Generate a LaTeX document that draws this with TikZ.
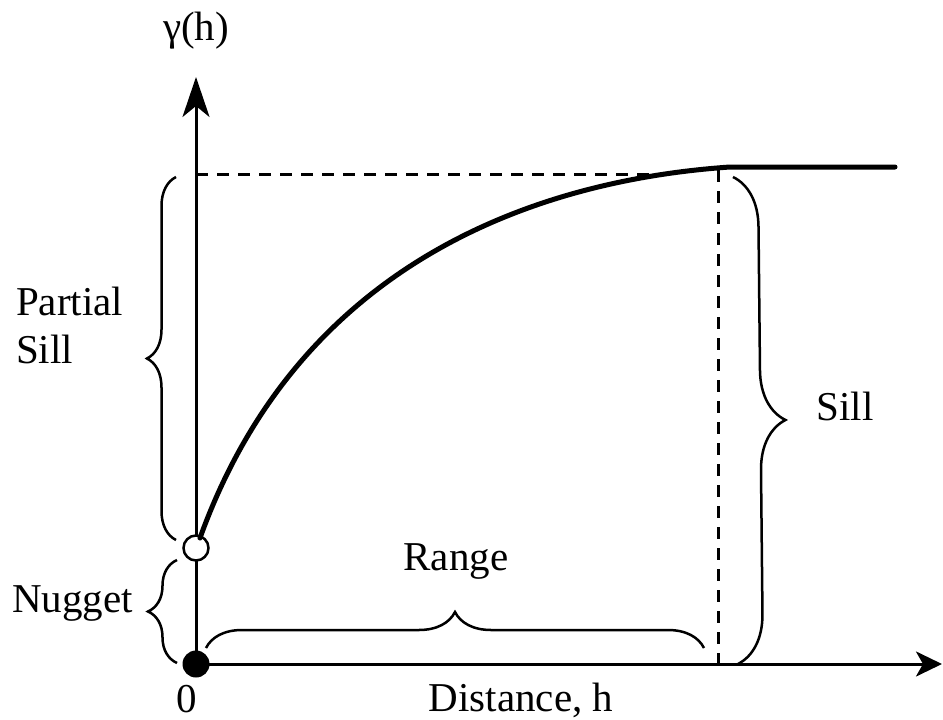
\documentclass[tikz,border=0pt]{standalone}
\usepackage{fontspec}
\setmainfont{Liberation Serif}
\usetikzlibrary{arrows.meta,decorations.pathreplacing}
\tikzset{
  lbl/.style={font=\fontsize{41}{50}\selectfont, inner sep=0pt},
  axisline/.style={line width=3pt},
  curveline/.style={line width=5pt, line cap=round},
  guide/.style={line width=3pt, dash pattern=on 12pt off 9pt},
  bracepath/.style={line width=2.5pt, decorate, decoration={brace, amplitude=#1}},
}
\begin{document}
\begin{tikzpicture}[x=1pt,y=-1pt]
\useasboundingbox (0,0) rectangle (943,720);
% key points
\coordinate (O) at (196,664);
\coordinate (ytip) at (196,77);
\coordinate (xtip) at (942,664);
\coordinate (sillL) at (196,174);
\coordinate (sillM) at (662,174);
\coordinate (rangeTop) at (718,170);
\coordinate (rangeBot) at (718,664);
% axes
\draw[axisline, -{Stealth[length=40pt,width=27pt,inset=11pt]}] (O) -- (ytip);
\draw[axisline, -{Stealth[length=26pt,width=25pt,inset=7pt]}] (O) -- (xtip);
% dashed guides
\draw[guide] (sillL) -- (sillM);
\draw[guide] (rangeTop) -- (rangeBot);
% circles
\node[circle, draw, line width=2.5pt, fill=white, minimum size=25pt, inner sep=0pt] (nug) at (196,548) {};
\node[circle, fill=black, minimum size=27pt, inner sep=0pt] (orig) at (196,664) {};
% curve
\coordinate (c0) at (200,538);
\coordinate (c2) at (730,167);
\coordinate (c3) at (895,167);
\draw[curveline] (c0) .. controls (300,260) and (540,180) .. (c2) -- (c3);
% braces
\coordinate (psB) at (176,540);
\coordinate (psT) at (176,177);
\draw[bracepath=29pt] (psB) -- (psT);
\coordinate (nuB) at (177,663);
\coordinate (nuT) at (177,560);
\draw[bracepath=29pt] (nuB) -- (nuT);
\coordinate (raL) at (206,648);
\coordinate (raR) at (704,648);
\draw[bracepath=36pt] (raL) -- (raR);
\coordinate (siT) at (733,177);
\coordinate (siB) at (738,664);
\draw[bracepath=50pt] (siT) -- (siB);
% labels
\node[lbl, anchor=base] (gamma) at (196,40) {γ(h)};
\node[lbl, anchor=base west] (partial) at (16,315) {Partial};
\node[lbl, anchor=base west] (psill) at (16,363) {Sill};
\node[lbl, anchor=base west] (nugget) at (12,612) {Nugget};
\node[lbl, anchor=base] (range) at (456,570) {Range};
\node[lbl, anchor=base] (sill) at (845,420) {Sill};
\node[lbl, anchor=base] (zero) at (187,712) {0};
\node[lbl, anchor=base] (dist) at (521,711) {Distance, h};
\end{tikzpicture}
\end{document}
